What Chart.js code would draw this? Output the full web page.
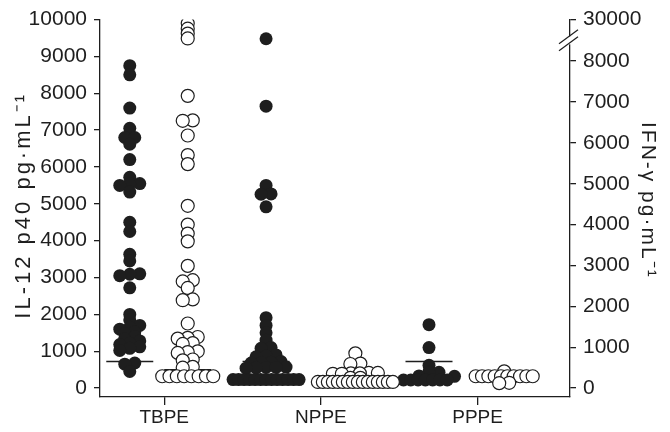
<!DOCTYPE html>
<html>
<head>
<meta charset="utf-8">
<script src="https://cdn.jsdelivr.net/npm/chart.js@4.4.1/dist/chart.umd.min.js"></script>
<style>
    html, body { margin: 0; padding: 0; background: #fff; }
    #wrap { width: 670px; height: 432px; }
</style>
</head>
<body>
<div id="wrap"><canvas id="grafico"></canvas></div>
<script>
const groups = ['TBPE', 'NPPE', 'PPPE'];

// IL-12 p40 (pg/mL) - eixo da esquerda
const il12TBPE = [8750, 8500, 7600, 7050, 6800, 6800, 6620, 6200, 5720, 5550, 5540, 5500, 5320, 4500, 4250,
    3630, 3450, 3100, 3090, 3050, 2720, 2000, 1850, 1700, 1650, 1600, 1520, 1480, 1400, 1330, 1280, 1220,
    1180, 1120, 1080, 1020, 680, 650, 450];
const il12NPPE = [9480, 7650, 5500, 5270, 5260, 4920, 1910, 1700, 1500, 1300, 1100, 1080, 900, 870, 850,
    720, 700, 690, 680, 570, 560, 560, 550, 540,
    230, 230, 230, 230, 230, 230, 230, 230, 230, 230, 230, 230, 230];
const il12PPPE = [1720, 1100, 620, 450, 430, 410, 330, 320, 220, 220, 220, 220, 220, 220, 220];

// IFN-gamma (pg/mL) - eixo da direita, com quebra
const ifnTBPE = [28000, 25200, 22600, 20000, 7150, 6550, 6540, 6180, 5700, 5480, 4460, 4000, 3780, 3590,
    2990, 2640, 2610, 2450, 2170, 2150, 1580, 1250, 1230, 1210, 1100, 1080, 900, 880, 860, 700, 680, 520, 500,
    290, 290, 290, 290, 290, 290, 290, 290];
const ifnNPPE = [850, 600, 590, 370, 370, 360, 360, 350, 350, 250, 250,
    150, 150, 150, 150, 150, 150, 150, 150, 150, 150, 150, 150, 150, 150, 150, 150];
const ifnPPPE = [410, 290, 290, 290, 290, 290, 290, 290, 290, 290, 290, 130, 120];

// linhas horizontais de corte
const il12Cutoff = [720, 720, 720];
const ifnCutoff = [450, 450, null];

const il12Ticks = [0, 1000, 2000, 3000, 4000, 5000, 6000, 7000, 8000, 9000, 10000];
const ifnTicks = [0, 1000, 2000, 3000, 4000, 5000, 6000, 7000, 8000, 30000];

const il12Title = 'IL-12 p40 pg·mL⁻¹';
const ifnTitle = 'IFN-γ pg·mL⁻¹';

// posição horizontal de cada coluna em relação ao centro da categoria
const il12Side = [-0.22, -0.35, -0.31];
const ifnSide = [0.15, 0.22, 0.17];

const INK = '#1e1e1e';
const FONT = 'Liberation Sans, Arial, Helvetica, sans-serif';

// Escala com quebra (8000 -> 30000)
const BREAK_AT = 8000;
const BREAK_FRAC = 0.89;

class BrokenScale extends Chart.LinearScale {
    getPixelForValue(value) {
        if (value === null || value === undefined) return NaN;
        let dec;
        if (value <= BREAK_AT) {
            dec = (value - this.min) / (BREAK_AT - this.min) * BREAK_FRAC;
        } else {
            dec = BREAK_FRAC + (value - BREAK_AT) / (this.max - BREAK_AT) * (1 - BREAK_FRAC);
        }
        return this.getPixelForDecimal(dec);
    }
    getValueForPixel(pixel) {
        const dec = this.getDecimalForPixel(pixel);
        if (dec <= BREAK_FRAC) return this.min + dec / BREAK_FRAC * (BREAK_AT - this.min);
        return BREAK_AT + (dec - BREAK_FRAC) / (1 - BREAK_FRAC) * (this.max - BREAK_AT);
    }
}
BrokenScale.id = 'broken';
BrokenScale.defaults = Chart.LinearScale.defaults;
Chart.register(BrokenScale);

// Agrupa pontos próximos em linhas e espalha cada linha na horizontal (pixels)
function swarmOffsets(pixelsY, binPx) {
    const order = pixelsY.map((_, i) => i).sort((a, b) => pixelsY[b] - pixelsY[a]);
    const offsets = new Array(pixelsY.length).fill(0);
    let row = [];
    const flush = () => {
        const n = row.length;
        const step = n > 1 ? Math.min(10, (27 + 3 * n) / (n - 1)) : 0;
        row.forEach((i, k) => { offsets[i] = (k - (n - 1) / 2) * step; });
        row = [];
    };
    order.forEach(i => {
        if (row.length && pixelsY[row[0]] - pixelsY[i] > binPx) flush();
        row.push(i);
    });
    flush();
    return offsets;
}

const il12Series = [il12TBPE, il12NPPE, il12PPPE];
const ifnSeries = [ifnTBPE, ifnNPPE, ifnPPPE];

const datasets = [];
groups.forEach((g, gi) => {
    datasets.push({
        type: 'scatter', label: `IL-12 ${g}`, yAxisID: 'y', order: 2,
        swarmCenter: gi + il12Side[gi],
        data: il12Series[gi].map(v => ({ x: gi + il12Side[gi], y: v })),
        pointRadius: 6.5, pointBackgroundColor: INK, pointBorderWidth: 0
    });
    datasets.push({
        type: 'scatter', label: `IFN ${g}`, yAxisID: 'y2', order: 1,
        swarmCenter: gi + ifnSide[gi],
        data: ifnSeries[gi].map(v => ({ x: gi + ifnSide[gi], y: v })),
        pointRadius: 6.5, pointBackgroundColor: '#fff', pointBorderColor: INK, pointBorderWidth: 1.2
    });
    const half = 0.15;
    datasets.push({
        type: 'line', yAxisID: 'y', order: 3,
        data: [{ x: gi + il12Side[gi] - half, y: il12Cutoff[gi] }, { x: gi + il12Side[gi] + half, y: il12Cutoff[gi] }],
        borderColor: INK, borderWidth: 1.5, pointRadius: 0
    });
    if (ifnCutoff[gi] !== null) {
        datasets.push({
            type: 'line', yAxisID: 'y2', order: 3,
            data: [{ x: gi + ifnSide[gi] - half, y: ifnCutoff[gi] }, { x: gi + ifnSide[gi] + half, y: ifnCutoff[gi] }],
            borderColor: INK, borderWidth: 1.5, pointRadius: 0
        });
    }
});

// Marca de quebra no eixo direito e títulos dos eixos
const extras = {
    id: 'extras',
    afterDraw(chart) {
        const s = chart.scales.y2;
        const ctx = chart.ctx;
        const x = s.left;
        const yMid = (s.getPixelForValue(BREAK_AT) + s.getPixelForValue(30000)) / 2;
        ctx.save();
        ctx.fillStyle = '#fff';
        ctx.fillRect(x - 2, yMid - 4, 4, 8);
        ctx.strokeStyle = INK;
        ctx.lineWidth = 1.2;
        [-3.5, 3.5].forEach(d => {
            ctx.beginPath();
            ctx.moveTo(x - 11, yMid + d + 7);
            ctx.lineTo(x + 8, yMid + d - 7);
            ctx.stroke();
        });
        ctx.restore();

        const { top, bottom } = chart.chartArea;
        const midY = (top + bottom) / 2;
        ctx.save();
        ctx.fillStyle = INK;
        ctx.textAlign = 'center';
        ctx.textBaseline = 'middle';
        ctx.font = `22px ${FONT}`;
        ctx.letterSpacing = '3px';
        ctx.translate(24, midY - 3);
        ctx.rotate(-Math.PI / 2);
        ctx.fillText(il12Title, 0, 0);
        ctx.restore();

        ctx.save();
        ctx.fillStyle = INK;
        ctx.textAlign = 'center';
        ctx.textBaseline = 'middle';
        ctx.font = `21px ${FONT}`;
        ctx.letterSpacing = '2px';
        ctx.translate(648, midY - 8);
        ctx.rotate(Math.PI / 2);
        ctx.fillText(ifnTitle, 0, 0);
        ctx.restore();
    }
};

const tickFont = { family: FONT, size: 21 };

const chart = new Chart(document.getElementById('grafico'), {
    type: 'scatter',
    data: { datasets },
    plugins: [extras],
    options: {
        responsive: true,
        maintainAspectRatio: false,
        animation: false,
        layout: { padding: { top: 16, left: 0, right: 0, bottom: 0 } },
        plugins: { legend: { display: false }, tooltip: { enabled: false } },
        scales: {
            x: {
                type: 'linear', position: 'bottom', min: -0.41, max: 2.59,
                afterBuildTicks: s => { s.ticks = groups.map((_, i) => ({ value: i })); },
                afterFit: s => { s.height = 35; },
                ticks: { callback: v => groups[v] ?? '', font: { family: FONT, size: 19 }, color: INK, padding: 1 },
                grid: { drawOnChartArea: false, tickLength: 8, color: INK, lineWidth: 1.3 },
                border: { color: INK, width: 1.3 }
            },
            y: {
                position: 'left', min: -242, max: 10000,
                afterBuildTicks: s => { s.ticks = il12Ticks.map(v => ({ value: v })); },
                afterFit: s => { s.width = 100; },
                ticks: { callback: v => String(v), font: tickFont, color: INK, padding: 7 },
                grid: { drawOnChartArea: false, tickLength: 6, color: INK, lineWidth: 1.3 },
                border: { color: INK, width: 1.3 }
            },
            y2: {
                type: 'broken', position: 'right', min: -218, max: 30000,
                afterBuildTicks: s => { s.ticks = ifnTicks.map(v => ({ value: v })); },
                afterFit: s => { s.width = 100; },
                ticks: { callback: v => String(v), font: tickFont, color: INK, padding: 7 },
                grid: { drawOnChartArea: false, tickLength: 6, color: INK, lineWidth: 1.3 },
                border: { color: INK, width: 1.3 }
            }
        }
    }
});

// Depois do layout, espalha os pontos de cada coluna
const xs = chart.scales.x;
const pxPerUnit = xs.getPixelForValue(1) - xs.getPixelForValue(0);
chart.data.datasets.forEach(ds => {
    if (ds.swarmCenter === undefined) return;
    const ys = chart.scales[ds.yAxisID];
    const py = ds.data.map(p => ys.getPixelForValue(p.y));
    const off = swarmOffsets(py, 4);
    ds.data = ds.data.map((p, i) => ({ x: ds.swarmCenter + off[i] / pxPerUnit, y: p.y }));
});
chart.update('none');
</script>
</body>
</html>
